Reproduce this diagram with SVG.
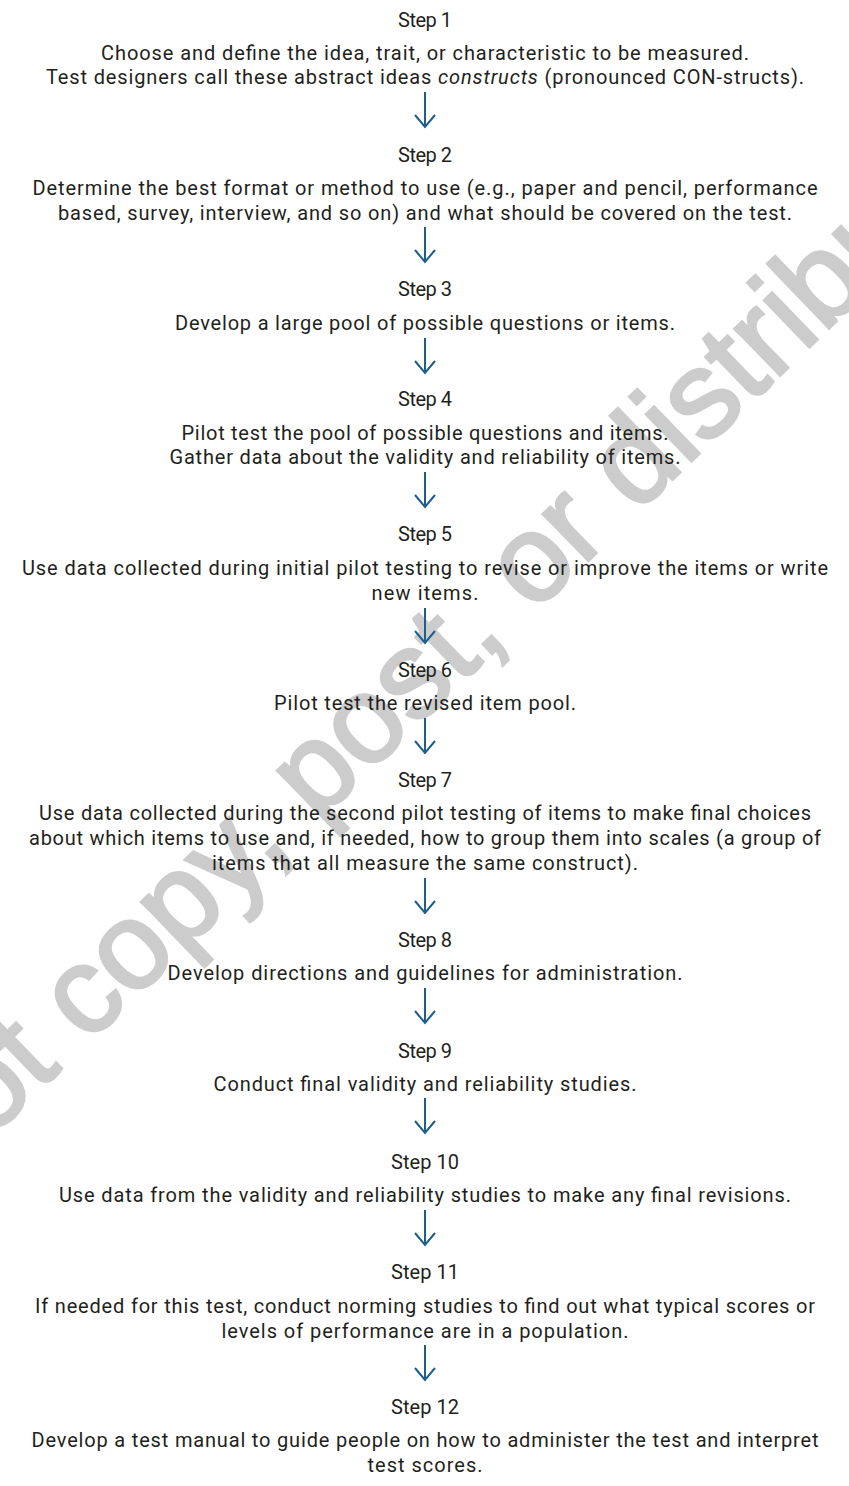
<svg xmlns="http://www.w3.org/2000/svg" width="849" height="1486" viewBox="0 0 849 1486">
<style>
text{font-family:Roboto,"Liberation Sans",sans-serif;font-size:20px;fill:#231f20;text-anchor:middle}
.wm{font-family:"Liberation Sans",Arial,sans-serif;font-size:123px;fill:#cccccc;stroke:#cccccc;stroke-width:3;text-anchor:start}
.arr{stroke:#1d5f8c;stroke-width:2;fill:none}
</style>
<defs>
<marker id="ah" viewBox="-14 -12 16 24" refX="0" refY="0" markerWidth="16" markerHeight="24" markerUnits="userSpaceOnUse" orient="auto" overflow="visible">
<path d="M-12,-10 L0,0 L-12,10" fill="none" stroke="#1d5f8c" stroke-width="2"/>
</marker>
</defs>
<rect width="849" height="1486" fill="#ffffff"/>
<text class="wm" transform="translate(-198,1320) rotate(-44)">Do not copy, post, or distribute</text>
<g id="connectors">
<line class="arr" x1="425" y1="92" x2="425" y2="127" marker-end="url(#ah)"/>
<line class="arr" x1="425" y1="227" x2="425" y2="262" marker-end="url(#ah)"/>
<line class="arr" x1="425" y1="338" x2="425" y2="373" marker-end="url(#ah)"/>
<line class="arr" x1="425" y1="472" x2="425" y2="507" marker-end="url(#ah)"/>
<line class="arr" x1="425" y1="608" x2="425" y2="643" marker-end="url(#ah)"/>
<line class="arr" x1="425" y1="718" x2="425" y2="753" marker-end="url(#ah)"/>
<line class="arr" x1="425" y1="878" x2="425" y2="913" marker-end="url(#ah)"/>
<line class="arr" x1="425" y1="988" x2="425" y2="1023" marker-end="url(#ah)"/>
<line class="arr" x1="425" y1="1098" x2="425" y2="1133" marker-end="url(#ah)"/>
<line class="arr" x1="425" y1="1210" x2="425" y2="1245" marker-end="url(#ah)"/>
<line class="arr" x1="425" y1="1345" x2="425" y2="1380" marker-end="url(#ah)"/>
</g>
<g id="step1">
<text x="425" y="27" textLength="54">Step 1</text>
<text x="425" y="60" textLength="648">Choose and define the idea, trait, or characteristic to be measured.</text>
<text x="425" y="84" textLength="758">Test designers call these abstract ideas <tspan font-style="italic">constructs</tspan> (pronounced CON-structs).</text>
</g>
<g id="step2">
<text x="425" y="162" textLength="54">Step 2</text>
<text x="425" y="195" textLength="785">Determine the best format or method to use (e.g., paper and pencil, performance</text>
<text x="425" y="220" textLength="734">based, survey, interview, and so on) and what should be covered on the test.</text>
</g>
<g id="step3">
<text x="425" y="296" textLength="54">Step 3</text>
<text x="425" y="330" textLength="500">Develop a large pool of possible questions or items.</text>
</g>
<g id="step4">
<text x="425" y="406" textLength="54">Step 4</text>
<text x="425" y="440" textLength="487">Pilot test the pool of possible questions and items.</text>
<text x="425" y="464" textLength="511">Gather data about the validity and reliability of items.</text>
</g>
<g id="step5">
<text x="425" y="541" textLength="54">Step 5</text>
<text x="425" y="575" textLength="806">Use data collected during initial pilot testing to revise or improve the items or write</text>
<text x="425" y="600" textLength="107">new items.</text>
</g>
<g id="step6">
<text x="425" y="677" textLength="54">Step 6</text>
<text x="425" y="710" textLength="302">Pilot test the revised item pool.</text>
</g>
<g id="step7">
<text x="425" y="787" textLength="54">Step 7</text>
<text x="425" y="820" textLength="772">Use data collected during the second pilot testing of items to make final choices</text>
<text x="425" y="845" textLength="792">about which items to use and, if needed, how to group them into scales (a group of</text>
<text x="425" y="870" textLength="426">items that all measure the same construct).</text>
</g>
<g id="step8">
<text x="425" y="947" textLength="54">Step 8</text>
<text x="425" y="980" textLength="515">Develop directions and guidelines for administration.</text>
</g>
<g id="step9">
<text x="425" y="1058" textLength="54">Step 9</text>
<text x="425" y="1091" textLength="423">Conduct final validity and reliability studies.</text>
</g>
<g id="step10">
<text x="425" y="1169" textLength="68">Step 10</text>
<text x="425" y="1202" textLength="732">Use data from the validity and reliability studies to make any final revisions.</text>
</g>
<g id="step11">
<text x="425" y="1279" textLength="68">Step 11</text>
<text x="425" y="1313" textLength="780">If needed for this test, conduct norming studies to find out what typical scores or</text>
<text x="425" y="1338" textLength="407">levels of performance are in a population.</text>
</g>
<g id="step12">
<text x="425" y="1414" textLength="68">Step 12</text>
<text x="425" y="1447" textLength="787">Develop a test manual to guide people on how to administer the test and interpret</text>
<text x="425" y="1472" textLength="115">test scores.</text>
</g>
</svg>
